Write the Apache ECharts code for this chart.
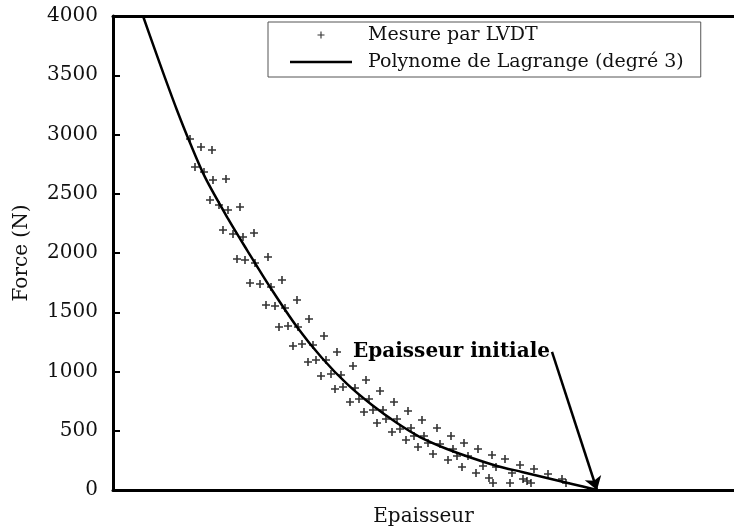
<!DOCTYPE html>
<html>
<head>
<meta charset="utf-8">
<script src="https://cdn.jsdelivr.net/npm/echarts@6/dist/echarts.min.js"></script>
<style>
  html, body { margin: 0; padding: 0; background: #fff; }
  #chart { width: 734px; height: 530px; }
</style>
</head>
<body>
<div id="chart"></div>
<script>
// Mesures LVDT : [épaisseur (unités arbitraires), force (N)]
const mesures = [
  [7.7, 2962], [8.8, 2895], [9.9, 2869],
  [8.2, 2726], [9.1, 2684], [10.0, 2616], [11.3, 2625],
  [9.7, 2447], [10.6, 2405], [11.5, 2363], [12.7, 2388],
  [11.0, 2194], [12.0, 2160], [13.0, 2135], [14.1, 2169],
  [12.4, 1949], [13.2, 1941], [14.2, 1916], [15.5, 1966],
  [13.7, 1747], [14.7, 1738], [15.8, 1713], [16.9, 1772],
  [15.3, 1561], [16.2, 1553], [17.2, 1536], [18.4, 1603],
  [16.6, 1376], [17.5, 1384], [18.5, 1376], [19.6, 1443],
  [18.0, 1215], [18.9, 1232], [20.0, 1224], [21.1, 1300],
  [19.5, 1080], [20.3, 1097], [21.3, 1097], [22.4, 1165],
  [20.8, 962], [21.8, 979], [22.8, 970], [24.0, 1046],
  [22.2, 852], [23.0, 869], [24.2, 861], [25.3, 928],
  [23.7, 743], [24.6, 768], [25.6, 768], [26.7, 835],
  [25.1, 658], [26.0, 675], [27.0, 675], [28.1, 743],
  [26.4, 565], [27.3, 599], [28.4, 599], [29.5, 667],
  [27.9, 489], [28.7, 515], [29.8, 523], [30.9, 591],
  [29.3, 422], [30.1, 456], [31.1, 456], [32.4, 523],
  [30.5, 363], [31.5, 397], [32.7, 388], [33.8, 456],
  [32.0, 304], [34.0, 346], [35.1, 397],
  [33.5, 253], [34.4, 287], [35.5, 287], [36.5, 346],
  [34.9, 194], [37.0, 203], [37.9, 295],
  [36.3, 143], [38.3, 194], [39.2, 262],
  [37.6, 101], [38.0, 59], [39.9, 143], [40.7, 211],
  [39.7, 59], [41.0, 93], [42.1, 177],
  [41.4, 76], [41.8, 59], [43.5, 135],
  [44.9, 93], [45.3, 59]
];

// Polynôme de Lagrange de degré 3, points relevés le long de la courbe
const polynome = [
  [3.0, 4000], [4.0, 3760], [5.2, 3478], [6.4, 3205], [7.7, 2930],
  [9.2, 2640], [11.5, 2290], [13.4, 2025], [15.7, 1713], [18.4, 1376],
  [20.9, 1114], [23.4, 895], [25.9, 717], [28.4, 565], [30.7, 447],
  [33.4, 346], [35.9, 270], [38.4, 203], [40.9, 152], [43.4, 101],
  [45.9, 51], [48.4, 0]
];

// Flèche de l'annotation : du texte vers l'épaisseur initiale
const flecheDebut = [43.9, 1165];
const flecheFin = [48.4, 0];

const yTicks = [0, 500, 1000, 1500, 2000, 2500, 3000, 3500, 4000];

const serif = '"DejaVu Serif", "Liberation Serif", serif';
const plus = 'path://M4,0H6V4H10V6H6V10H4V6H0V4H4Z';
const plusLegende = 'path://M0,0h0.01v0.01h-0.01Z M20,20h0.01v0.01h-0.01Z M9.2,5H10.8V9.2H15V10.8H10.8V15H9.2V10.8H5V9.2H9.2Z';
const traitLegende = 'path://M0,0H62V2.5H0Z';

const chart = echarts.init(document.getElementById('chart'), null, { renderer: 'canvas' });

chart.setOption({
  animation: false,
  backgroundColor: '#fff',
  textStyle: { fontFamily: serif, color: '#111' },
  grid: { left: 113, right: 0, top: 16, bottom: 40, containLabel: false, outerBoundsMode: 'none' },
  legend: {
    orient: 'vertical',
    left: 268,
    top: 22,
    padding: [3, 17, 5, 22],
    itemGap: 7,
    itemWidth: 62,
    itemHeight: 14,
    borderColor: '#555',
    borderWidth: 1,
    borderRadius: 0,
    backgroundColor: '#fff',
    textStyle: { fontFamily: serif, fontSize: 19, color: '#111', lineHeight: 20, padding: [0, 0, 0, 11] },
    data: [
      { name: 'Mesure par LVDT', icon: plusLegende },
      { name: 'Polynome de Lagrange (degré 3)', icon: traitLegende }
    ]
  },
  xAxis: [
    {
      type: 'value', min: 0, max: 62.1,
      name: 'Epaisseur', nameLocation: 'middle', nameGap: 17,
      nameTextStyle: { fontFamily: serif, fontSize: 20, color: '#111' },
      axisLine: { show: true, onZero: false, lineStyle: { color: '#000', width: 3 } },
      axisTick: { show: false }, axisLabel: { show: false }, splitLine: { show: false }
    },
    {
      type: 'value', min: 0, max: 62.1, position: 'top',
      axisLine: { show: true, onZero: false, lineStyle: { color: '#000', width: 3 } },
      axisTick: { show: false }, axisLabel: { show: false }, splitLine: { show: false }
    }
  ],
  yAxis: {
    type: 'value', min: 0, max: 4000, interval: 500,
    name: 'Force (N)', nameLocation: 'middle', nameGap: 81, nameRotate: 90,
    nameTextStyle: { fontFamily: serif, fontSize: 20, color: '#111' },
    axisLine: { show: true, onZero: false, lineStyle: { color: '#000', width: 3 } },
    axisTick: { show: true, inside: true, length: 7, lineStyle: { color: '#000', width: 2 } },
    axisLabel: {
      margin: 15, fontFamily: serif, fontSize: 20, color: '#111',
      formatter: v => (yTicks.indexOf(v) >= 0 ? String(v) : '')
    },
    splitLine: { show: false }
  },
  series: [
    {
      name: 'Mesure par LVDT',
      type: 'scatter',
      data: mesures,
      symbol: plus,
      symbolSize: 8,
      itemStyle: { color: '#000' },
      z: 3
    },
    {
      name: 'Polynome de Lagrange (degré 3)',
      type: 'line',
      data: polynome,
      showSymbol: false,
      symbol: 'none',
      smooth: 0.3,
      clip: true,
      lineStyle: { color: '#000', width: 2.5 },
      itemStyle: { color: '#000' },
      z: 4,
      markLine: {
        silent: true,
        symbol: ['none', 'arrow'],
        symbolSize: 13,
        lineStyle: { color: '#000', width: 2.5, type: 'solid' },
        label: { show: false },
        data: [[{ coord: flecheDebut }, { coord: flecheFin }]]
      },
      markPoint: {
        silent: true,
        symbol: 'circle',
        symbolSize: 0,
        data: [{ coord: flecheDebut }],
        label: {
          show: true,
          position: 'left',
          distance: 2,
          formatter: 'Epaisseur initiale',
          fontFamily: serif,
          fontSize: 20,
          fontWeight: 'bold',
          color: '#000'
        }
      }
    }
  ]
});
</script>
</body>
</html>
